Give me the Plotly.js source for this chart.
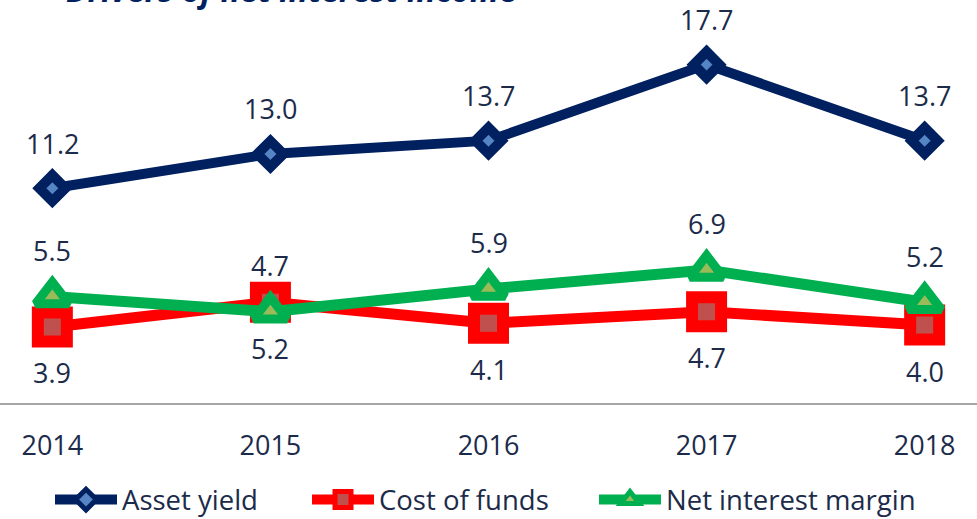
<!DOCTYPE html>
<html>
<head>
<meta charset="utf-8">
<script src="https://cdn.plot.ly/plotly-3.0.1.min.js"></script>
<style>html,body{margin:0;padding:0;background:#fff;}#chart{width:977px;height:519px;}</style>
</head>
<body>
<div id="chart"></div>
<script>
var years = ["2014", "2015", "2016", "2017", "2018"];
var assetYield = [11.2, 13.0, 13.7, 17.7, 13.7];
var costOfFunds = [3.9, 5.2, 4.1, 4.7, 4.0];
var netInterestMargin = [5.5, 4.7, 5.9, 6.9, 5.2];
var seriesNames = ["Asset yield", "Cost of funds", "Net interest margin"];
var titleText = "Drivers of net interest income";

var FONT = "Open Sans, Noto Sans, sans-serif";
var TXT = "#1c2b4a";

var traces = [
  {x: years, y: assetYield, name: seriesNames[0], legend: "legend", type: "scatter", mode: "lines+markers",
   line: {color: "#002060", width: 10},
   marker: {symbol: "diamond", size: 20, color: "#5585c5", line: {color: "#002060", width: 10}}},
  {x: years, y: costOfFunds, name: seriesNames[1], legend: "legend2", type: "scatter", mode: "lines+markers",
   line: {color: "#ff0000", width: 11},
   marker: {symbol: "square", size: 29, color: "#c0504d", line: {color: "#ff0000", width: 12}}},
  {x: years, y: netInterestMargin, name: seriesNames[2], legend: "legend3", type: "scatter", mode: "lines+markers",
   line: {color: "#00b050", width: 11},
   marker: {symbol: "triangle-up", size: 29, color: "#9bbb59", line: {color: "#00b050", width: 9}}}
];

var annotations = [];
function addLabels(vals, shift) {
  for (var i = 0; i < years.length; i++) {
    annotations.push({x: i, y: vals[i], xref: "x", yref: "y", text: vals[i].toFixed(1),
      showarrow: false, yshift: shift, xanchor: "center", yanchor: "middle",
      font: {family: FONT, size: 27, color: TXT}});
  }
}
addLabels(assetYield, 45);
addLabels(costOfFunds, -46);
addLabels(netInterestMargin, 46);

annotations.push({x: 0.066, y: 1, xref: "paper", yref: "paper", xanchor: "left", yanchor: "bottom",
  yshift: -13, showarrow: false, text: "<b><i>" + titleText + "</i></b>",
  font: {family: FONT, size: 32, color: "#002060"}});

function legendAt(xpx) {
  return {orientation: "h", x: xpx / 977, xanchor: "left", y: -0.24, yanchor: "middle",
    bgcolor: "rgba(0,0,0,0)", font: {family: FONT, size: 27.5, color: TXT}, itemwidth: 62};
}

var layout = {
  width: 977, height: 519,
  margin: {l: 0, r: 0, t: 0, b: 116, autoexpand: false},
  paper_bgcolor: "#fff", plot_bgcolor: "#fff",
  showlegend: true,
  legend: legendAt(50),
  legend2: legendAt(307),
  legend3: legendAt(594),
  xaxis: {type: "category", range: [-0.24, 4.24], showline: true, linecolor: "#a6a6a6", linewidth: 2,
    ticks: "", showgrid: false, zeroline: false, ticklabelstandoff: 18,
    tickfont: {family: FONT, size: 27, color: TXT}, fixedrange: true},
  yaxis: {range: [-0.1, 21.1], visible: false, showgrid: false, zeroline: false, fixedrange: true},
  annotations: annotations
};

Plotly.newPlot("chart", traces, layout, {displayModeBar: false, staticPlot: true});
</script>
</body>
</html>
